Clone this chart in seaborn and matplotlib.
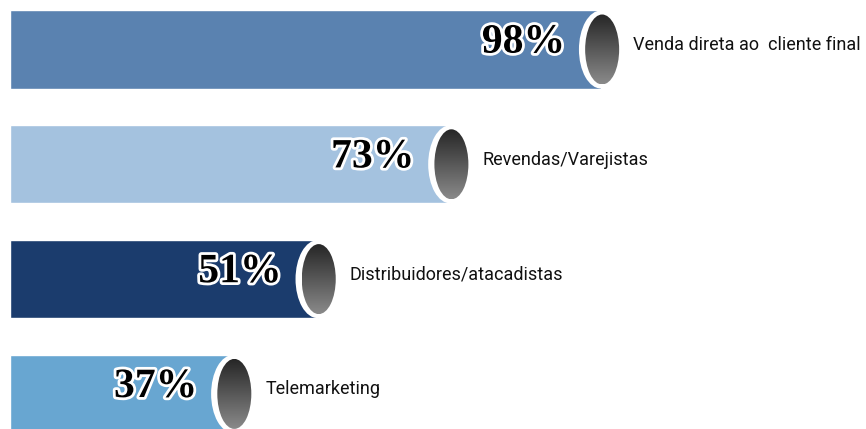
import numpy as np
import pandas as pd
import matplotlib
matplotlib.use("Agg")
import matplotlib.pyplot as plt
import matplotlib.patheffects as pe
from matplotlib.patches import Ellipse
from matplotlib.colors import LinearSegmentedColormap
import seaborn as sns

# data
categories = ["Venda direta ao  cliente final", "Revendas/Varejistas",
              "Distribuidores/atacadistas", "Telemarketing"]
values = [98, 73, 51, 37]
bar_colors = ["#5A82B0", "#A4C2DF", "#1B3C6D", "#68A6D1"]

df = pd.DataFrame({"categoria": categories, "valor": values})

sns.set_theme(style="white")
plt.rcParams["font.family"] = ["Roboto", "DejaVu Sans"]

W, H, DPI = 866, 429, 100
fig = plt.figure(figsize=(W / DPI, H / DPI), dpi=DPI)
ax = fig.add_axes([0, 0, 1, 1])

sns.barplot(data=df, x="valor", y="categoria", hue="categoria",
            palette=bar_colors, orient="h", width=0.68, legend=False,
            saturation=1, ax=ax)

# pixel scale: 0% at x=10px, ~6.03 px per percent; rows spaced 114.8px
px_x = 6.03
px_y = 114.8
ax.set_xlim(-10 / px_x, (W - 10) / px_x)
ax.set_ylim((H - 49.5) / px_y, -49.5 / px_y)
ax.axis("off")

cap_cmap = LinearSegmentedColormap.from_list("cap", ["#262626", "#8a8a8a"])
grad = np.linspace(0, 1, 256).reshape(-1, 1)

for i, v in enumerate(values):
    # white rim of the cylinder end
    rim = Ellipse((v, i), width=44 / px_x, height=78 / px_y,
                  facecolor="white", edgecolor="none", zorder=3)
    ax.add_patch(rim)
    # dark gradient face
    cw, ch = 34 / px_x, 70 / px_y
    face = Ellipse((v + 0.2, i), width=cw, height=ch,
                   facecolor="none", edgecolor="none", zorder=4)
    ax.add_patch(face)
    im = ax.imshow(grad, cmap=cap_cmap, aspect="auto", zorder=4,
                   extent=(v + 0.2 - cw / 2, v + 0.2 + cw / 2, i + ch / 2, i - ch / 2))
    im.set_clip_path(face)

    # percentage label
    ax.text(v - 36 / px_x, i - 0.06, f"{v}%", ha="right", va="center",
            fontsize=30, fontweight="bold", family="Liberation Serif",
            color="black", zorder=5,
            path_effects=[pe.withStroke(linewidth=4, foreground="white")])

    # category label
    ax.text(v + 32 / px_x, i - 0.04, categories[i], ha="left", va="center",
            fontsize=13, color="#111111", zorder=5)

fig.savefig("out.png", dpi=DPI)
